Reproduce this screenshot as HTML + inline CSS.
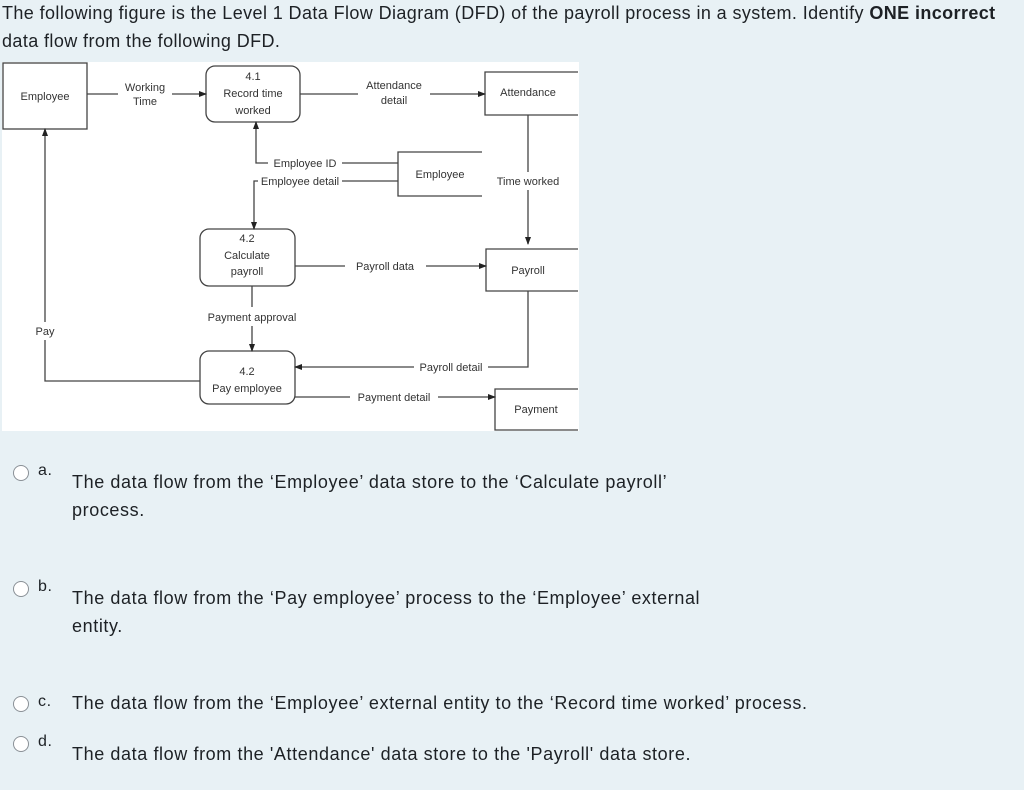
<!DOCTYPE html>
<html><head><meta charset="utf-8"><style>
body{margin:0;width:1024px;height:790px;background:#e8f1f5;font-family:"Liberation Sans",sans-serif;color:#1d2125;position:relative;overflow:hidden}
.t{position:absolute;font-size:18px;letter-spacing:0.6px;white-space:nowrap}
.h{letter-spacing:0.4px}
.r{position:absolute;width:14px;height:14px;border:1px solid #8a9096;border-radius:50%;background:#fff}
svg text{font-family:"Liberation Sans",sans-serif;font-size:11px;fill:#333;text-anchor:middle}
</style></head><body>
<div class="t h" style="left:2px;top:3px">The following figure is the Level 1 Data Flow Diagram (DFD) of the payroll process in a system. Identify <b>ONE incorrect</b></div>
<div class="t h" style="left:2px;top:31px">data flow from the following DFD.</div>
<svg style="position:absolute;left:0;top:0" width="1024" height="440">
<defs><marker id="a" markerWidth="8" markerHeight="8" refX="7" refY="4" orient="auto" markerUnits="userSpaceOnUse"><path d="M0,1 L8,4 L0,7z" fill="#222"/></marker></defs>
<rect x="2" y="62" width="577" height="369" fill="#fff"/>
<g stroke="#444" stroke-width="1.3" fill="none">
<rect x="3" y="63" width="84" height="66"/>
<rect x="206" y="66" width="94" height="56" rx="9"/>
<rect x="200" y="229" width="95" height="57" rx="9"/>
<rect x="200" y="351" width="95" height="53" rx="9"/>
<path d="M578 72H485V115H578"/>
<path d="M578 249H486V291H578"/>
<path d="M578 389H495V430H578"/>
<path d="M482 152H398V196H482"/>
<path d="M87 94H118M172 94H206" marker-end="url(#a)"/>
<path d="M300 94H358M430 94H485" marker-end="url(#a)"/>
<path d="M528 115V172M528 190V244" marker-end="url(#a)"/>
<path d="M398 163H342M268 163H256V122" marker-end="url(#a)"/>
<path d="M398 181H342M258 181H254V229" marker-end="url(#a)"/>
<path d="M295 266H345M426 266H486" marker-end="url(#a)"/>
<path d="M252 286V307M252 326V351" marker-end="url(#a)"/>
<path d="M528 291V367H488M414 367H295" marker-end="url(#a)"/>
<path d="M295 397H350M438 397H495" marker-end="url(#a)"/>
<path d="M200 381H45V340M45 322V129" marker-end="url(#a)"/>
</g>
<text x="45" y="100">Employee</text>
<text x="145" y="91">Working</text><text x="145" y="105">Time</text>
<text x="253" y="80">4.1</text><text x="253" y="97">Record time</text><text x="253" y="114">worked</text>
<text x="394" y="89">Attendance</text><text x="394" y="104">detail</text>
<text x="528" y="96">Attendance</text>
<text x="305" y="167">Employee ID</text>
<text x="300" y="185">Employee detail</text>
<text x="440" y="178">Employee</text>
<text x="528" y="185">Time worked</text>
<text x="247" y="242">4.2</text><text x="247" y="259">Calculate</text><text x="247" y="275">payroll</text>
<text x="385" y="270">Payroll data</text>
<text x="528" y="274">Payroll</text>
<text x="252" y="321">Payment approval</text>
<text x="45" y="335">Pay</text>
<text x="451" y="371">Payroll detail</text>
<text x="247" y="375">4.2</text><text x="247" y="392">Pay employee</text>
<text x="394" y="401">Payment detail</text>
<text x="536" y="413">Payment</text>
</svg>
<div class="r" style="left:13px;top:465px"></div><div class="t" style="left:38px;top:462px;font-size:16px">a.</div>
<div class="t" style="left:72px;top:472px">The data flow from the ‘Employee’ data store to the ‘Calculate payroll’</div>
<div class="t" style="left:72px;top:500px">process.</div>
<div class="r" style="left:13px;top:581px"></div><div class="t" style="left:38px;top:578px;font-size:16px">b.</div>
<div class="t" style="left:72px;top:588px">The data flow from the ‘Pay employee’ process to the ‘Employee’ external</div>
<div class="t" style="left:72px;top:616px">entity.</div>
<div class="r" style="left:13px;top:696px"></div><div class="t" style="left:38px;top:693px;font-size:16px">c.</div>
<div class="t" style="left:72px;top:693px">The data flow from the ‘Employee’ external entity to the ‘Record time worked’ process.</div>
<div class="r" style="left:13px;top:736px"></div><div class="t" style="left:38px;top:733px;font-size:16px">d.</div>
<div class="t" style="left:72px;top:744px">The data flow from the 'Attendance' data store to the 'Payroll' data store.</div>
</body></html>
